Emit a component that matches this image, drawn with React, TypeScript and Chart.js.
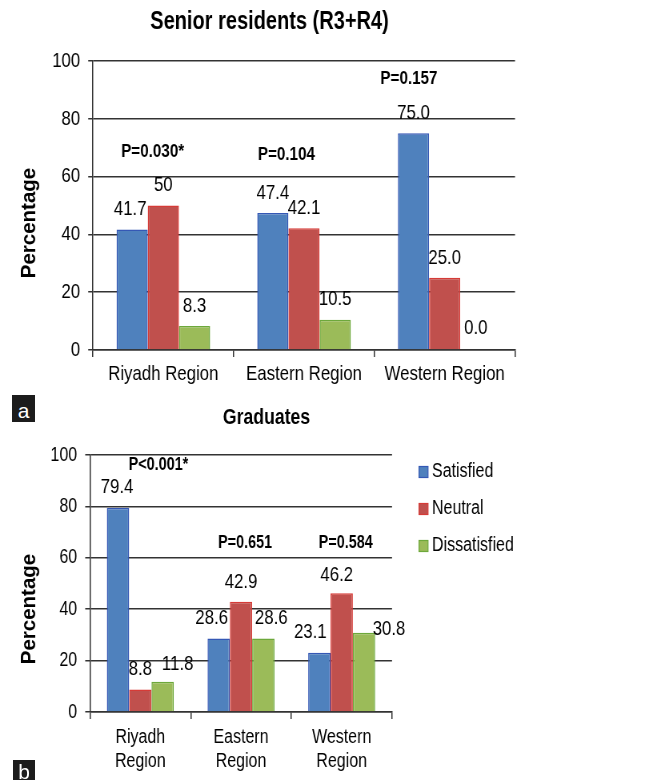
import { useEffect, useRef } from 'react';
import { Chart, registerables } from 'chart.js';

Chart.register(...registerables);

const FONT = '"Liberation Sans", Arial, Helvetica, sans-serif';
const PAGE_W = 657;
const INNER_W = 821; // the figure is horizontally compressed: canvas drawn wider, displayed at 657px
const SX = PAGE_W / INNER_W;

// ---------- data ----------
const seriesNames = ['Satisfied', 'Neutral', 'Dissatisfied'];
const regionsTop = ['Riyadh Region', 'Eastern Region', 'Western Region'];
const regionsBottom = [
  ['Riyadh', 'Region'],
  ['Eastern', 'Region'],
  ['Western', 'Region'],
];
const yTickValues = [0, 20, 40, 60, 80, 100];

const seniorSatisfied = [41.7, 47.4, 75.0];
const seniorNeutral = [50, 42.1, 25.0];
const seniorDissatisfied = [8.3, 10.5, 0.0];
const seniorLabelText = [
  ['41.7', '47.4', '75.0'],
  ['50', '42.1', '25.0'],
  ['8.3', '10.5', '0.0'],
];
const seniorPValues = ['P=0.030*', 'P=0.104', 'P=0.157'];

const gradSatisfied = [79.4, 28.6, 23.1];
const gradNeutral = [8.8, 42.9, 46.2];
const gradDissatisfied = [11.8, 28.6, 30.8];
const gradLabelText = [
  ['79.4', '28.6', '23.1'],
  ['8.8', '42.9', '46.2'],
  ['11.8', '28.6', '30.8'],
];
const gradPValues = ['P<0.001*', 'P=0.651', 'P=0.584'];

// ---------- styles ----------
const fills = ['#4F81BD', '#C0504D', '#9BBB59'];
const borders = ['#3558B5', '#D63B37', '#6DA83B'];
const GRID = '#333333';

type Shift = [number, number];
interface PanelSpec {
  canvasHeight: number;
  categories: (string | string[])[];
  values: number[][];
  labelText: string[][];
  labelShift: Shift[][]; // page px: [dx, distance above bar top]
  pValues: string[];
  pAnchor: { cat: number; val: number }[];
  title: string;
  titleX: number;
  titleY: number;
  titleSize: number;
  area: { left: number; right: number; top: number; bottom: number };
  tickSize: number;
  catSize: number;
  catPad: number;
  dataSize: number;
  pSize: number;
  axisTitleX: number;
  axisTitleY: number;
  axisTitleSize: number;
  legend?: { boxX: number; boxW: number; boxH: number; textX: number; ys: number[]; size: number };
}

const topSpec: PanelSpec = {
  canvasHeight: 395,
  categories: regionsTop,
  values: [seniorSatisfied, seniorNeutral, seniorDissatisfied],
  labelText: seniorLabelText,
  labelShift: [
    [[-2, 20], [0, 20], [0, 20]],
    [[0, 20], [0, 20], [0, 20]],
    [[0, 20], [0, 20], [0, 22]],
  ],
  pValues: seniorPValues,
  pAnchor: [
    { cat: -0.076, val: 68.5 },
    { cat: 0.875, val: 67.5 },
    { cat: 1.746, val: 94 },
  ],
  title: 'Senior residents (R3+R4)',
  titleX: 269.5,
  titleY: 22,
  titleSize: 25,
  area: { left: 93, right: 515, top: 61, bottom: 350 },
  tickSize: 21,
  catSize: 21,
  catPad: 5,
  dataSize: 21,
  pSize: 19,
  axisTitleX: 29.4,
  axisTitleY: 223,
  axisTitleSize: 20.5,
};

const bottomSpec: PanelSpec = {
  canvasHeight: 385,
  categories: regionsBottom,
  values: [gradSatisfied, gradNeutral, gradDissatisfied],
  labelText: gradLabelText,
  labelShift: [
    [[-1, 21], [-7, 20], [-9, 20]],
    [[0, 20], [0, 20], [-5, 18]],
    [[15, 17], [8, 20], [25, 3.5]],
  ],
  pValues: gradPValues,
  pAnchor: [
    { cat: 0.18, val: 96.2 },
    { cat: 1.04, val: 65.8 },
    { cat: 2.04, val: 65.8 },
  ],
  title: 'Graduates',
  titleX: 266.5,
  titleY: 22.5,
  titleSize: 22,
  area: { left: 90, right: 392, top: 60, bottom: 317 },
  tickSize: 20,
  catSize: 20,
  catPad: 6,
  dataSize: 21,
  pSize: 18,
  axisTitleX: 29.4,
  axisTitleY: 214,
  axisTitleSize: 20.5,
  legend: { boxX: 419, boxW: 9, boxH: 11, textX: 432, ys: [76, 113, 150], size: 20 },
};

function overlayPlugin(spec: PanelSpec) {
  return {
    id: 'overlay',
    afterDraw(chart: any) {
      const ctx: CanvasRenderingContext2D = chart.ctx;
      const xs = chart.scales.x;
      const ys = chart.scales.y;
      ctx.save();
      ctx.fillStyle = '#000';
      ctx.textAlign = 'center';
      ctx.textBaseline = 'middle';

      // value labels above bars
      ctx.font = `${spec.dataSize}px ${FONT}`;
      spec.values.forEach((_, i) => {
        const meta = chart.getDatasetMeta(i);
        meta.data.forEach((el: any, j: number) => {
          const [dx, dy] = spec.labelShift[i][j];
          ctx.fillText(spec.labelText[i][j], el.x + dx / SX, el.y - dy);
        });
      });

      // p-values
      ctx.font = `bold ${spec.pSize}px ${FONT}`;
      spec.pValues.forEach((t, j) => {
        const a = spec.pAnchor[j];
        ctx.fillText(t, xs.getPixelForValue(a.cat), ys.getPixelForValue(a.val));
      });

      // chart title
      ctx.font = `bold ${spec.titleSize}px ${FONT}`;
      ctx.fillText(spec.title, spec.titleX / SX, spec.titleY);

      // legend
      if (spec.legend) {
        const lg = spec.legend;
        ctx.font = `${lg.size}px ${FONT}`;
        ctx.textAlign = 'left';
        seriesNames.forEach((name, i) => {
          const y = lg.ys[i];
          ctx.fillStyle = fills[i];
          ctx.fillRect(lg.boxX / SX, y + 1 - lg.boxH / 2, lg.boxW / SX, lg.boxH);
          ctx.strokeStyle = borders[i];
          ctx.lineWidth = 1.2;
          ctx.strokeRect(lg.boxX / SX, y + 1 - lg.boxH / 2, lg.boxW / SX, lg.boxH);
          ctx.fillStyle = '#000';
          ctx.fillText(name, lg.textX / SX, y);
        });
      }

      // rotated axis title, drawn without the horizontal compression
      ctx.save();
      ctx.scale(1 / SX, 1);
      ctx.translate(spec.axisTitleX, spec.axisTitleY);
      ctx.rotate(-Math.PI / 2);
      ctx.textAlign = 'center';
      ctx.fillStyle = '#000';
      ctx.font = `bold ${spec.axisTitleSize}px ${FONT}`;
      ctx.fillText('Percentage', 0, 0);
      ctx.restore();

      ctx.restore();
    },
  };
}

function buildConfig(spec: PanelSpec): any {
  const a = spec.area;
  return {
    type: 'bar',
    data: {
      labels: spec.categories,
      datasets: spec.values.map((vals, i) => ({
        label: seriesNames[i],
        data: vals,
        backgroundColor: fills[i],
        borderColor: borders[i],
        borderWidth: 1.5,
        categoryPercentage: 0.665,
        barPercentage: 1,
      })),
    },
    options: {
      responsive: false,
      animation: false,
      devicePixelRatio: 1,
      events: [],
      layout: {
        padding: { left: 0, top: a.top, right: INNER_W - a.right / SX, bottom: 0 },
      },
      plugins: {
        legend: { display: false },
        tooltip: { enabled: false },
        title: { display: false },
      },
      scales: {
        x: {
          type: 'category',
          offset: true,
          grid: {
            display: true,
            drawOnChartArea: false,
            drawTicks: true,
            tickLength: 7,
            color: GRID,
            lineWidth: 1.5,
            offset: true,
          },
          border: { display: true, color: GRID, width: 1.5 },
          ticks: {
            color: '#000',
            font: { family: FONT, size: spec.catSize, lineHeight: 1.2 },
            padding: spec.catPad,
            maxRotation: 0,
            minRotation: 0,
            autoSkip: false,
          },
          afterFit: (s: any) => {
            s.height = spec.canvasHeight - a.bottom;
          },
        },
        y: {
          min: 0,
          max: 100,
          grid: { color: GRID, lineWidth: 1.5, tickLength: 6, drawTicks: true },
          border: { display: true, color: GRID, width: 1.5 },
          ticks: {
            stepSize: 20,
            color: '#000',
            padding: 10,
            font: { family: FONT, size: spec.tickSize },
          },
          afterBuildTicks: (s: any) => {
            s.ticks = yTickValues.map((v) => ({ value: v }));
          },
          afterFit: (s: any) => {
            s.width = a.left / SX;
          },
        },
      },
    },
    plugins: [overlayPlugin(spec)],
  };
}

function Panel({ spec, top }: { spec: PanelSpec; top: number }) {
  const ref = useRef<HTMLCanvasElement>(null);
  useEffect(() => {
    if (!ref.current) return;
    const chart = new Chart(ref.current, buildConfig(spec));
    return () => chart.destroy();
  }, [spec]);
  return (
    <canvas
      ref={ref}
      width={INNER_W}
      height={spec.canvasHeight}
      style={{
        position: 'absolute',
        left: 0,
        top,
        width: PAGE_W + 'px',
        height: spec.canvasHeight + 'px',
        display: 'block',
      }}
    />
  );
}

function PanelTag({ text, left, top, width, height, lineHeight }: any) {
  return (
    <div
      style={{
        position: 'absolute',
        left,
        top,
        width,
        height,
        overflow: 'hidden',
        background: '#1c1c1c',
        color: '#fff',
        fontFamily: FONT,
        fontSize: 21,
        lineHeight: lineHeight + 'px',
        textAlign: 'center',
      }}
    >
      {text}
    </div>
  );
}

export default function App() {
  return (
    <div
      style={{
        position: 'absolute',
        left: 0,
        top: 0,
        width: PAGE_W,
        height: 780,
        overflow: 'hidden',
        background: '#fff',
      }}
    >
      <Panel spec={topSpec} top={0} />
      <Panel spec={bottomSpec} top={395} />
      <PanelTag text="a" left={12} top={395} width={23} height={27} lineHeight={32} />
      <PanelTag text="b" left={13} top={760} width={22} height={20} lineHeight={24} />
    </div>
  );
}
